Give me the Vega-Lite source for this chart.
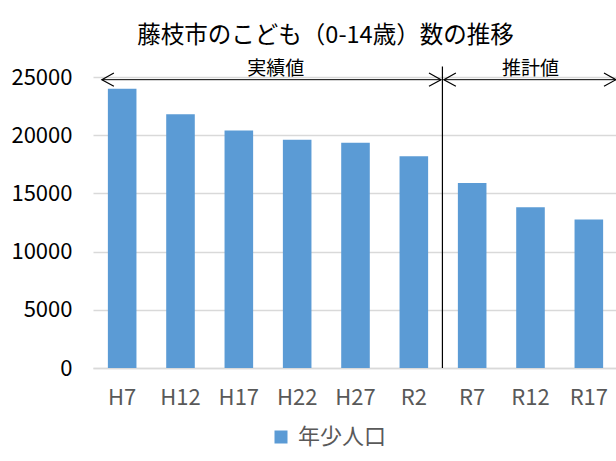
{
  "$schema": "https://vega.github.io/schema/vega-lite/v6.json",
  "width": 525,
  "height": 291,
  "autosize": "none",
  "padding": {"left": 93, "top": 77, "right": 0, "bottom": 93},
  "background": "white",
  "title": {
    "text": "藤枝市のこども（0-14歳）数の推移",
    "font": "Noto Sans CJK JP",
    "fontSize": 23.5,
    "fontWeight": "normal",
    "color": "#000000",
    "anchor": "middle",
    "dx": -30,
    "offset": 13
  },
  "config": {
    "view": {"stroke": null},
    "font": "Noto Sans CJK JP"
  },
  "layer": [
    {
      "data": {
        "values": [
          {"period": "H7", "series": "年少人口", "value": 24000},
          {"period": "H12", "series": "年少人口", "value": 21800},
          {"period": "H17", "series": "年少人口", "value": 20400},
          {"period": "H22", "series": "年少人口", "value": 19600},
          {"period": "H27", "series": "年少人口", "value": 19350},
          {"period": "R2", "series": "年少人口", "value": 18200},
          {"period": "R7", "series": "年少人口", "value": 15900},
          {"period": "R12", "series": "年少人口", "value": 13800},
          {"period": "R17", "series": "年少人口", "value": 12750}
        ]
      },
      "mark": {"type": "bar"},
      "encoding": {
        "x": {
          "field": "period",
          "type": "nominal",
          "sort": null,
          "scale": {
            "domain": ["H7", "H12", "H17", "H22", "H27", "R2", "R7", "R12", "R17"],
            "paddingInner": 0.51,
            "paddingOuter": 0.255
          },
          "axis": {
            "title": null,
            "labelAngle": 0,
            "labelFont": "Noto Sans CJK JP",
            "labelFontSize": 22,
            "labelColor": "#595959",
            "labelPadding": 19,
            "ticks": false,
            "domainColor": "#d9d9d9",
            "domainWidth": 1.5,
            "grid": false
          }
        },
        "y": {
          "field": "value",
          "type": "quantitative",
          "scale": {"domain": [0, 25000], "nice": false},
          "axis": {
            "title": null,
            "values": [0, 5000, 10000, 15000, 20000, 25000],
            "format": "d",
            "labelFont": "Noto Sans CJK JP",
            "labelFontSize": 22,
            "labelColor": "#000000",
            "labelPadding": 21,
            "ticks": false,
            "domain": false,
            "grid": true,
            "gridColor": "#d9d9d9",
            "gridWidth": 1.5
          }
        },
        "color": {
          "field": "series",
          "type": "nominal",
          "scale": {"range": ["#5b9bd5"]},
          "legend": {
            "title": null,
            "orient": "none",
            "legendX": 177,
            "legendY": 349,
            "direction": "horizontal",
            "symbolType": "square",
            "symbolSize": 169,
            "symbolStrokeWidth": 0,
            "labelFont": "Noto Sans CJK JP",
            "labelFontSize": 22,
            "labelColor": "#595959",
            "labelOffset": 6
          }
        }
      }
    },
    {
      "data": {"values": [{"split": "R2"}]},
      "mark": {"type": "rule", "color": "#000000", "strokeWidth": 1.2},
      "encoding": {
        "x": {"field": "split", "type": "nominal", "bandPosition": 1.5},
        "y": {"datum": 0, "type": "quantitative"},
        "y2": {"datum": 25900}
      }
    },
    {
      "data": {"values": [{"label": "実績値", "from": "H7", "to": "R2", "middle": "H22"}]},
      "layer": [
        {
          "mark": {"type": "rule", "color": "#000000", "strokeWidth": 1},
          "encoding": {
            "x": {"field": "from", "type": "nominal", "bandPosition": -0.21},
            "x2": {"field": "to", "bandPosition": 1.45},
            "y": {"datum": 24770, "type": "quantitative"}
          }
        },
        {
          "mark": {"type": "point", "shape": "M2,-1.1L0,0L2,1.1", "filled": false, "stroke": "#000000", "strokeWidth": 1.2, "size": 144, "opacity": 1},
          "encoding": {
            "x": {"field": "from", "type": "nominal", "bandPosition": -0.21},
            "y": {"datum": 24770, "type": "quantitative"}
          }
        },
        {
          "mark": {"type": "point", "shape": "M-2,-1.1L0,0L-2,1.1", "filled": false, "stroke": "#000000", "strokeWidth": 1.2, "size": 144, "opacity": 1},
          "encoding": {
            "x": {"field": "to", "type": "nominal", "bandPosition": 1.45},
            "y": {"datum": 24770, "type": "quantitative"}
          }
        },
        {
          "mark": {"type": "text", "font": "Noto Sans CJK JP", "fontSize": 19, "color": "#000000", "baseline": "middle", "align": "center"},
          "encoding": {
            "x": {"field": "middle", "type": "nominal", "bandPosition": -0.25},
            "y": {"datum": 25650, "type": "quantitative"},
            "text": {"field": "label"}
          }
        }
      ]
    },
    {
      "data": {"values": [{"label": "推計値", "from": "R7", "to": "R17", "middle": "R12"}]},
      "layer": [
        {
          "mark": {"type": "rule", "color": "#000000", "strokeWidth": 1},
          "encoding": {
            "x": {"field": "from", "type": "nominal", "bandPosition": -0.49},
            "x2": {"field": "to", "bandPosition": 1.45},
            "y": {"datum": 24770, "type": "quantitative"}
          }
        },
        {
          "mark": {"type": "point", "shape": "M2,-1.1L0,0L2,1.1", "filled": false, "stroke": "#000000", "strokeWidth": 1.2, "size": 144, "opacity": 1},
          "encoding": {
            "x": {"field": "from", "type": "nominal", "bandPosition": -0.49},
            "y": {"datum": 24770, "type": "quantitative"}
          }
        },
        {
          "mark": {"type": "point", "shape": "M-2,-1.1L0,0L-2,1.1", "filled": false, "stroke": "#000000", "strokeWidth": 1.2, "size": 144, "opacity": 1},
          "encoding": {
            "x": {"field": "to", "type": "nominal", "bandPosition": 1.45},
            "y": {"datum": 24770, "type": "quantitative"}
          }
        },
        {
          "mark": {"type": "text", "font": "Noto Sans CJK JP", "fontSize": 19, "color": "#000000", "baseline": "middle", "align": "center"},
          "encoding": {
            "x": {"field": "middle", "type": "nominal", "bandPosition": 0.5},
            "y": {"datum": 25650, "type": "quantitative"},
            "text": {"field": "label"}
          }
        }
      ]
    }
  ]
}
